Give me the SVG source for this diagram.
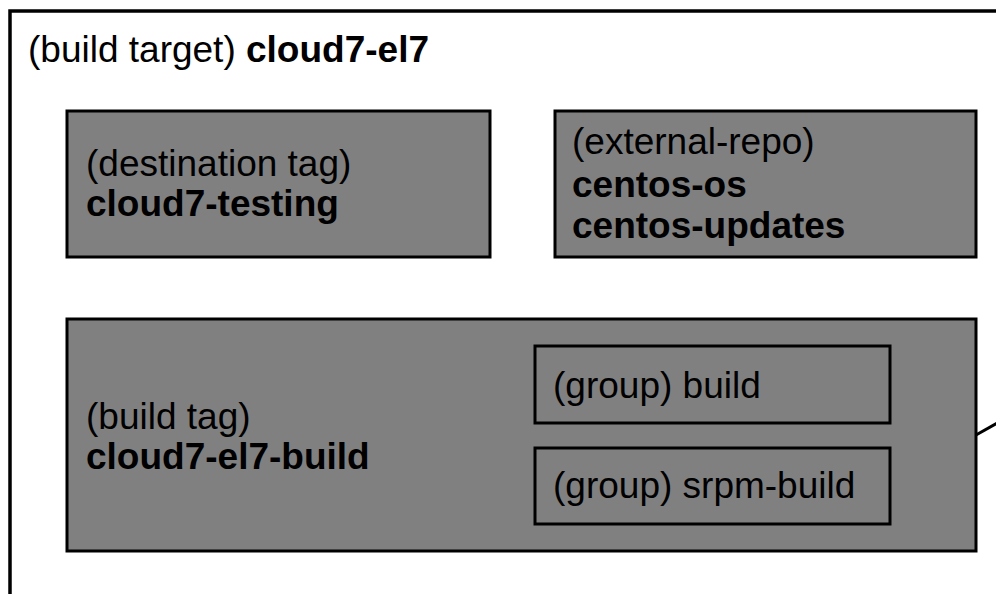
<svg xmlns="http://www.w3.org/2000/svg" width="996" height="594" viewBox="0 0 996 594">
  <style>
    .t { font-family: "Liberation Sans", Arial, sans-serif; font-size: 37px; fill: #000; }
    .b { font-weight: bold; }
    .box { fill: #808080; stroke: #000; stroke-width: 3; }
    .grp { fill: none; stroke: #000; stroke-width: 3; }
    .edge { stroke: #000; stroke-width: 3; fill: none; }
  </style>
  <rect width="996" height="594" fill="#fff"/>
  <g id="build-target">
    <rect x="10" y="11" width="1000" height="600" fill="#fff" stroke="#000" stroke-width="3.5"/>
    <text class="t" x="28" y="62">(build target) <tspan class="b">cloud7-el7</tspan></text>
  </g>
  <g id="destination-tag">
    <rect class="box" x="67" y="111" width="423" height="146"/>
    <text class="t" x="86" y="176">(destination tag)</text>
    <text class="t b" x="86" y="216">cloud7-testing</text>
  </g>
  <g id="external-repo">
    <rect class="box" x="555" y="111" width="421" height="146"/>
    <text class="t" x="572" y="154">(external-repo)</text>
    <text class="t b" x="572" y="197">centos-os</text>
    <text class="t b" x="572" y="238">centos-updates</text>
  </g>
  <g id="build-tag">
    <rect class="box" x="67" y="319" width="909" height="232"/>
    <text class="t" x="86" y="429">(build tag)</text>
    <text class="t b" x="86" y="469">cloud7-el7-build</text>
  </g>
  <g id="group-build">
    <rect class="grp" x="535" y="346" width="355" height="77"/>
    <text class="t" x="553" y="398">(group) build</text>
  </g>
  <g id="group-srpm-build">
    <rect class="grp" x="535" y="448" width="355" height="76"/>
    <text class="t" x="553" y="498">(group) srpm-build</text>
  </g>
  <g id="connectors">
    <line class="edge" x1="976" y1="435" x2="999" y2="422"/>
  </g>
</svg>
